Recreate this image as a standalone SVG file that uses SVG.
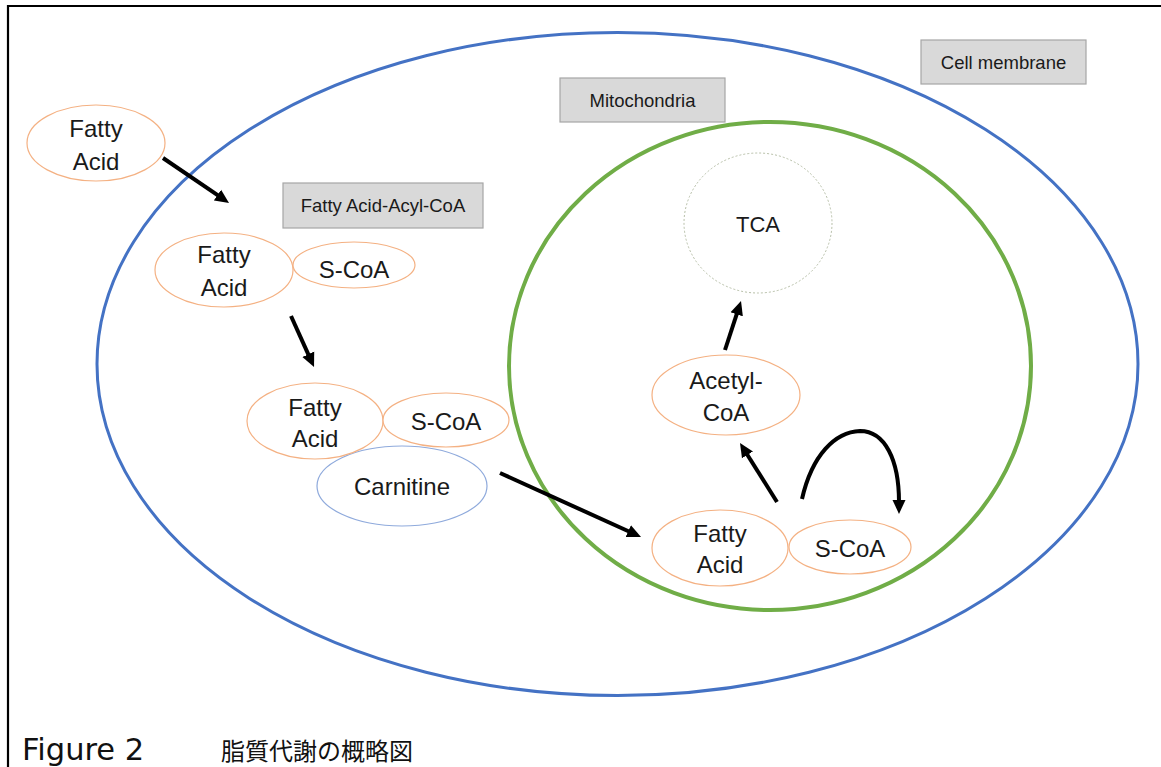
<svg xmlns="http://www.w3.org/2000/svg" width="1161" height="767" viewBox="0 0 1161 767">
<style>
.t{font-family:"Liberation Sans",Arial,sans-serif;font-size:24px;fill:#1a1a1a;text-anchor:middle}
.lb{font-family:"Liberation Sans",Arial,sans-serif;font-size:18.5px;fill:#1a1a1a;text-anchor:middle}
.or{fill:#fff;stroke:#f4b183;stroke-width:1.2}
.box{fill:#d9d9d9;stroke:#a6a6a6;stroke-width:1.2}
.arr{fill:none;stroke:#000;stroke-width:4;marker-end:url(#ah)}
</style>
<defs>
<marker id="ah" markerUnits="userSpaceOnUse" markerWidth="16" markerHeight="14" refX="2" refY="7" orient="auto">
<path d="M0,0.5 L14,7 L0,13.5 z" fill="#000"/>
</marker>
</defs>
<rect width="1161" height="767" fill="#fff"/>
<path d="M8,767 V6 H1161" fill="none" stroke="#000" stroke-width="2.2"/>
<g id="cell-membrane-ellipse"><ellipse cx="617.5" cy="364" rx="520.5" ry="331.5" fill="none" stroke="#4472c4" stroke-width="3"/></g>
<g id="mitochondria-ellipse"><ellipse cx="770" cy="366" rx="261" ry="244" fill="none" stroke="#70ad47" stroke-width="4"/></g>
<g id="label-cell-membrane"><rect class="box" x="921" y="40" width="165" height="44"/><text class="lb" x="1003.5" y="69">Cell membrane</text></g>
<g id="label-mitochondria"><rect class="box" x="560" y="78" width="165" height="44"/><text class="lb" x="642.5" y="107">Mitochondria</text></g>
<g id="label-acyl-coa"><rect class="box" x="283" y="183" width="200" height="45"/><text class="lb" x="383" y="212">Fatty Acid-Acyl-CoA</text></g>
<g id="fa1"><ellipse class="or" cx="96" cy="143" rx="69" ry="38"/><text class="t" x="96" y="137">Fatty</text><text class="t" x="96" y="170">Acid</text></g>
<g id="fa2"><ellipse class="or" cx="224" cy="270" rx="69" ry="37"/><text class="t" x="224" y="263">Fatty</text><text class="t" x="224" y="296">Acid</text></g>
<g id="scoa2"><ellipse class="or" cx="354" cy="265" rx="61" ry="23"/><text class="t" x="354" y="278">S-CoA</text></g>
<g id="carnitine"><ellipse cx="402" cy="486" rx="85" ry="40" fill="#fff" stroke="#8faadc" stroke-width="1.2"/><text class="t" x="402" y="495">Carnitine</text></g>
<g id="fa3"><ellipse class="or" cx="315" cy="421" rx="68" ry="38"/><text class="t" x="315" y="416">Fatty</text><text class="t" x="315" y="447">Acid</text></g>
<g id="scoa3"><ellipse class="or" cx="446" cy="420" rx="63" ry="27"/><text class="t" x="446" y="430">S-CoA</text></g>
<g id="tca"><ellipse cx="758" cy="223" rx="74" ry="70" fill="none" stroke="#b7bfa8" stroke-width="1" stroke-dasharray="2 2"/><text class="t" x="758" y="232" style="font-size:22px">TCA</text></g>
<g id="acetyl-coa"><ellipse class="or" cx="726" cy="395" rx="74" ry="40"/><text class="t" x="726" y="389">Acetyl-</text><text class="t" x="726" y="421">CoA</text></g>
<g id="fa4"><ellipse class="or" cx="720" cy="548" rx="68" ry="38"/><text class="t" x="720" y="542">Fatty</text><text class="t" x="720" y="573">Acid</text></g>
<g id="scoa4"><ellipse class="or" cx="850" cy="547" rx="61" ry="27"/><text class="t" x="850" y="557">S-CoA</text></g>
<g id="connectors">
<path class="arr" d="M163,158 L219.1,196.2"/>
<path class="arr" d="M291,316 L309.1,356.1"/>
<path class="arr" d="M500,473 L630.1,532"/>
<path class="arr" d="M777,502 L746.4,453.2"/>
<path class="arr" d="M725,350 L737.3,312.4"/>
<path class="arr" d="M802,499 C812,455 835,432 860,431 C885,431 899,460 899,502"/>
</g>
<g id="caption">
<text x="22" y="760" style="font-family:'DejaVu Sans',Verdana,sans-serif;font-size:30.5px;fill:#111">Figure 2</text>
<text x="221" y="760" style="font-family:'Noto Sans CJK JP',sans-serif;font-size:24px;fill:#111">脂質代謝の概略図</text>
</g>
</svg>
